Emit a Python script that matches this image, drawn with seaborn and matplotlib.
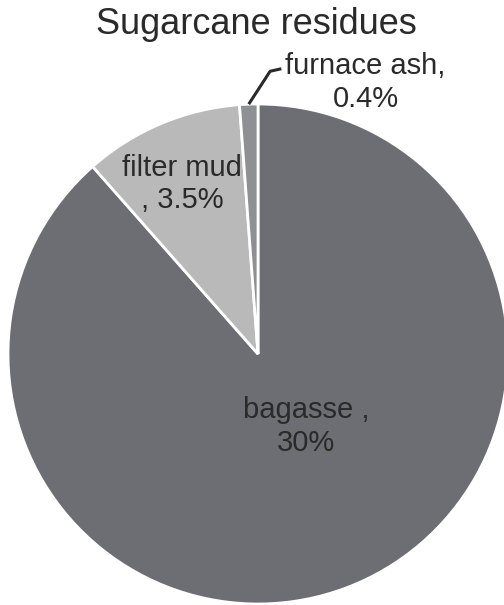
import numpy as np
import matplotlib
matplotlib.use("Agg")
import matplotlib.pyplot as plt
import seaborn as sns

# residue shares (%)
labels = ["bagasse", "filter mud", "furnace ash"]
values = [30, 3.5, 0.4]
label_texts = ["bagasse ,\n30%", "filter mud\n, 3.5%", "furnace ash,\n0.4%"]
colors = ["#6c6e73", "#b9b9b9", "#8f9094"]

sns.set_theme(style="white")
plt.rcParams['font.family'] = ['Liberation Sans', 'DejaVu Sans']

fig = plt.figure(figsize=(5.04, 6.05), dpi=100)
ax = fig.add_axes([8 / 504, 1 / 605, 500 / 504, 500 / 605])

wedges, _ = ax.pie(values, colors=colors, startangle=90, counterclock=False,
                   wedgeprops=dict(edgecolor="white", linewidth=2), radius=1)
ax.set_xlim(-1, 1)
ax.set_ylim(-1, 1)
ax.set_aspect("equal")
ax.axis("off")

txt_kw = dict(ha="center", va="center", fontsize=21, color="#2a2a2a",
              linespacing=1.22)

# labels inside the two larger slices
ax.text(0.194, -0.29, label_texts[0], **txt_kw)
ax.text(-0.304, 0.68, label_texts[1], **txt_kw)

# furnace ash label outside, with a bent leader line from the slice
w = wedges[2]
ang = np.deg2rad((w.theta1 + w.theta2) / 2)
x0, y0 = np.cos(ang), np.sin(ang)
x1, y1 = x0 + 0.157 * np.cos(np.deg2rad(57)), y0 + 0.157 * np.sin(np.deg2rad(57))
ax.plot([x0, x1, x1 + 0.045], [y0, y1, y1 + 0.01], color="#2a2a2a", lw=2.2,
        clip_on=False, solid_capstyle="butt")
ax.text(0.43, 1.085, label_texts[2], clip_on=False, **txt_kw)

fig.text(0.508, 0.959, "Sugarcane residues", ha="center", va="center",
         fontsize=26, color="#2a2a2a")

fig.savefig("out.png", dpi=100)
